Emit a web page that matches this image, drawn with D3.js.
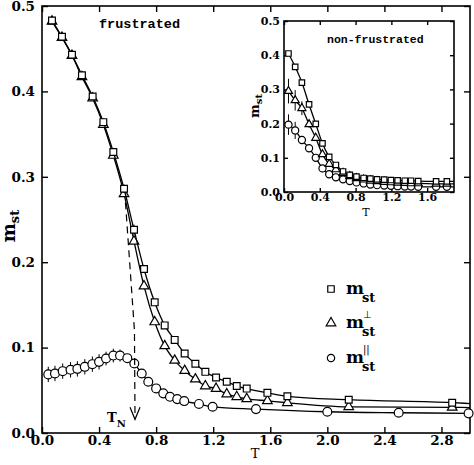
<!DOCTYPE html>
<html>
<head>
<meta charset="utf-8">
<script src="https://cdn.jsdelivr.net/npm/d3@7"></script>
<style>
  body { margin: 0; background: #fff; }
  svg { display: block; }
  .tick text { font-family: "DejaVu Serif", serif; font-weight: bold; }
</style>
</head>
<body>
<script>
// main panel (frustrated)
const mainT = [0.07, 0.14, 0.21, 0.28, 0.355, 0.43, 0.5, 0.575, 0.645, 0.715, 0.79, 0.86, 0.93, 1.0, 1.075, 1.145, 1.22, 1.295, 1.365, 1.435, 1.58, 1.72, 2.15, 2.875];
const mainSq = [0.483, 0.464, 0.443, 0.419, 0.394, 0.364, 0.329, 0.286, 0.238, 0.192, 0.153, 0.126, 0.109, 0.093, 0.081, 0.0716, 0.065, 0.060, 0.055, 0.052, 0.047, 0.043, 0.039, 0.0355];
const mainTri = [0.482, 0.463, 0.442, 0.417, 0.392, 0.361, 0.325, 0.280, 0.2245, 0.172, 0.130, 0.102, 0.085, 0.073, 0.063, 0.055, 0.052, 0.0456, 0.0424, 0.040, 0.0377, 0.0354, 0.0307, 0.030];
const mainCircT = [0.044, 0.091, 0.145, 0.2, 0.248, 0.30, 0.353, 0.4, 0.449, 0.5, 0.547, 0.598, 0.647, 0.699, 0.745, 0.8, 0.85, 0.897, 0.948, 0.997, 1.1, 1.196, 1.5, 2.0, 2.5, 2.99];
const mainCirc = [0.0686, 0.0697, 0.0724, 0.074, 0.0751, 0.0775, 0.0806, 0.0833, 0.0872, 0.0907, 0.0907, 0.0876, 0.0814, 0.0697, 0.060, 0.0522, 0.0464, 0.0424, 0.0397, 0.0374, 0.034, 0.0307, 0.028, 0.0249, 0.0237, 0.023];
const mainCircErr = [0.009, 0.009, 0.009, 0.009, 0.009, 0.009, 0.009, 0.009, 0.008, 0.008, 0.007, 0.005];
const mainSqErr = [0, 0, 0, 0, 0, 0, 0.004, 0.005, 0.006];
const mainTail = { T: 3.0, sq: 0.0345, tri: 0.0298, circ: 0.0229 };
const tnGuide = [[0.585, 0.27], [0.648, 0.12], [0.652, 0.016]];

// inset (non-frustrated)
const insetT = [0.05, 0.125, 0.2, 0.28, 0.355, 0.43, 0.505, 0.58, 0.66, 0.735, 0.81, 0.89, 0.965, 1.04, 1.12, 1.195, 1.27, 1.35, 1.42, 1.5, 1.7, 1.82];
const insetSq = [0.405, 0.366, 0.32, 0.256, 0.199, 0.142, 0.103, 0.079, 0.06, 0.05, 0.045, 0.041, 0.039, 0.037, 0.036, 0.035, 0.034, 0.033, 0.033, 0.032, 0.031, 0.031];
const insetTri = [0.295, 0.268, 0.245, 0.198, 0.158, 0.11, 0.082, 0.066, 0.055, 0.046, 0.04, 0.036, 0.033, 0.031, 0.029, 0.028, 0.027, 0.026, 0.025, 0.025, 0.024, 0.024];
const insetCirc = [0.197, 0.18, 0.152, 0.128, 0.1, 0.069, 0.052, 0.043, 0.037, 0.032, 0.028, 0.025, 0.022, 0.02, 0.019, 0.018, 0.017, 0.016, 0.016, 0.015, 0.015, 0.015];
const insetTriErr = [0.036, 0.03, 0.02, 0.01];
const insetCircErr = [0.03, 0.025, 0.012];
const insetTail = { T: 1.9, sq: 0.031, tri: 0.024, circ: 0.015 };

const xTicks = [0, 0.4, 0.8, 1.2, 1.6, 2.0, 2.4, 2.8];
const yTicks = [0, 0.1, 0.2, 0.3, 0.4, 0.5];
const insetXTicks = [0, 0.4, 0.8, 1.2, 1.6];

const svg = d3.select('body').append('svg')
  .attr('width', 474)
  .attr('height', 465);

const x = d3.scaleLinear().domain([0, 3.0]).range([42, 470]);
const y = d3.scaleLinear().domain([0, 0.5]).range([433, 6]);
const xi = d3.scaleLinear().domain([0, 1.9]).range([284, 454]);
const yi = d3.scaleLinear().domain([0, 0.5]).range([192, 21]);

const fmt = d3.format('.1f');

function frame(xs, ys) {
  const [x0, x1] = xs.range();
  const [y0, y1] = ys.range();
  const g = svg.append('g');
  g.append('rect')
    .attr('x', x0).attr('y', y1)
    .attr('width', x1 - x0).attr('height', y0 - y1)
    .attr('fill', '#fff').attr('stroke', '#000').attr('stroke-width', 1.6);
  return g;
}

function axes(g, xs, ys, xt, yt, tickLen, fontSize, xPad, yPad) {
  const [x0, x1] = xs.range();
  const [y0, y1] = ys.range();
  const bottom = g.append('g').attr('transform', `translate(0,${y0})`)
    .call(d3.axisBottom(xs).tickValues(xt).tickSize(-tickLen).tickSizeOuter(0).tickPadding(xPad).tickFormat(fmt));
  const top = g.append('g').attr('transform', `translate(0,${y1})`)
    .call(d3.axisTop(xs).tickValues(xt).tickSize(-tickLen).tickSizeOuter(0).tickFormat(''));
  const left = g.append('g').attr('transform', `translate(${x0},0)`)
    .call(d3.axisLeft(ys).tickValues(yt).tickSize(-tickLen).tickSizeOuter(0).tickPadding(yPad).tickFormat(fmt));
  const right = g.append('g').attr('transform', `translate(${x1},0)`)
    .call(d3.axisRight(ys).tickValues(yt).tickSize(-tickLen).tickSizeOuter(0).tickFormat(''));
  [bottom, top, left, right].forEach(a => {
    a.select('.domain').remove();
    a.selectAll('line').attr('stroke', '#000').attr('stroke-width', 1.4);
    a.selectAll('text').attr('fill', '#000').style('font-size', fontSize + 'px');
  });
}

function series(g, xs, ys, T, vals, tail, shape, size, err) {
  const pts = T.map((t, i) => [t, vals[i]]);
  const linePts = tail ? pts.concat([[tail[0], tail[1]]]) : pts;
  g.append('path')
    .attr('d', d3.line().x(d => xs(d[0])).y(d => ys(d[1])).curve(d3.curveMonotoneX)(linePts))
    .attr('fill', 'none').attr('stroke', '#000').attr('stroke-width', 1.3);
  if (err) {
    g.selectAll(null).data(err.filter(e => e > 0).map((e, i) => i)).enter();
    g.selectAll(null).data(err).enter().append('line')
      .attr('x1', (d, i) => xs(T[i])).attr('x2', (d, i) => xs(T[i]))
      .attr('y1', (d, i) => ys(vals[i] - d)).attr('y2', (d, i) => ys(vals[i] + d))
      .attr('stroke', '#000').attr('stroke-width', 1);
  }
  g.selectAll(null).data(pts).enter().append('path')
    .attr('transform', d => `translate(${xs(d[0])},${ys(d[1])})`)
    .attr('d', d3.symbol().type(shape).size(size))
    .attr('fill', '#fff').attr('stroke', '#000').attr('stroke-width', 1.2);
}

// main panel
const gm = frame(x, y);
axes(gm, x, y, xTicks, yTicks, 6, 13.5, 2, 7);

series(gm, x, y, mainCircT, mainCirc, [mainTail.T, mainTail.circ], d3.symbolCircle, 62, mainCircErr);
series(gm, x, y, mainT, mainTri, [mainTail.T, mainTail.tri], d3.symbolTriangle, 40);
series(gm, x, y, mainT, mainSq, [mainTail.T, mainTail.sq], d3.symbolSquare, 46, mainSqErr);

// T_N guide
gm.append('path')
  .attr('d', d3.line().x(d => x(d[0])).y(d => y(d[1]))(tnGuide))
  .attr('fill', 'none').attr('stroke', '#000').attr('stroke-width', 1.2)
  .attr('stroke-dasharray', '7,5');
const tip = tnGuide[tnGuide.length - 1];
gm.append('path')
  .attr('d', `M${x(tip[0]) - 5},${y(tip[1]) - 12}L${x(tip[0])},${y(tip[1])}L${x(tip[0]) + 5},${y(tip[1]) - 12}`)
  .attr('fill', 'none').attr('stroke', '#000').attr('stroke-width', 1.2);
const tn = gm.append('text').attr('x', 107).attr('y', 422)
  .style('font-family', 'DejaVu Serif, serif').style('font-weight', 'bold').style('font-size', '13px')
  .text('T');
tn.append('tspan').attr('dy', 5).style('font-size', '10px').text('N');

gm.append('text').attr('x', 99).attr('y', 28)
  .style('font-family', 'Liberation Mono, monospace').style('font-weight', 'bold').style('font-size', '13.5px')
  .text('frustrated');

// axis labels
gm.append('text').attr('x', 255).attr('y', 458).attr('text-anchor', 'middle')
  .style('font-family', 'DejaVu Serif, serif').style('font-size', '13px').text('T');
const yl = gm.append('text').attr('transform', 'translate(15,226) rotate(-90)').attr('text-anchor', 'middle')
  .style('font-family', 'DejaVu Serif, serif').style('font-weight', 'bold').style('font-size', '18px')
  .text('m');
yl.append('tspan').attr('dy', 4).style('font-size', '13px').text('st');

// legend
const legendShapes = [d3.symbolSquare, d3.symbolTriangle, d3.symbolCircle];
const legendSup = ['', '\u22A5', '||'];
const legendY = [289, 323, 358];
const lg = gm.append('g');
legendShapes.forEach((s, i) => {
  lg.append('path')
    .attr('transform', `translate(331,${legendY[i]})`)
    .attr('d', d3.symbol().type(s).size(i === 1 ? 40 : 42))
    .attr('fill', '#fff').attr('stroke', '#000').attr('stroke-width', 1.2);
  lg.append('text').attr('x', 346).attr('y', legendY[i] + 5)
    .style('font-family', 'DejaVu Serif, serif').style('font-weight', 'bold').style('font-size', '17px')
    .text('m');
  lg.append('text').attr('x', 362).attr('y', legendY[i] + 13)
    .style('font-family', 'DejaVu Serif, serif').style('font-weight', 'bold').style('font-size', '13px')
    .text('st');
  if (legendSup[i]) {
    lg.append('text').attr('x', 363).attr('y', legendY[i] - 5)
      .style('font-family', 'DejaVu Sans, sans-serif').style('font-size', '10px')
      .text(legendSup[i]);
  }
});

// inset
const gi = frame(xi, yi);
axes(gi, xi, yi, insetXTicks, yTicks, 4, 11, 1, 4);
series(gi, xi, yi, insetT, insetCirc, [insetTail.T, insetTail.circ], d3.symbolCircle, 40, insetCircErr);
series(gi, xi, yi, insetT, insetTri, [insetTail.T, insetTail.tri], d3.symbolTriangle, 28, insetTriErr);
series(gi, xi, yi, insetT, insetSq, [insetTail.T, insetTail.sq], d3.symbolSquare, 30);

gi.append('text').attr('x', 327).attr('y', 43)
  .style('font-family', 'Liberation Mono, monospace').style('font-weight', 'bold').style('font-size', '11.5px')
  .text('non-frustrated');
gi.append('text').attr('x', 366).attr('y', 216).attr('text-anchor', 'middle')
  .style('font-family', 'DejaVu Serif, serif').style('font-size', '11px').text('T');
const yli = gi.append('text').attr('transform', 'translate(259,106) rotate(-90)').attr('text-anchor', 'middle')
  .style('font-family', 'DejaVu Serif, serif').style('font-weight', 'bold').style('font-size', '13px')
  .text('m');
yli.append('tspan').attr('dy', 3).style('font-size', '10px').text('st');
</script>
</body>
</html>
